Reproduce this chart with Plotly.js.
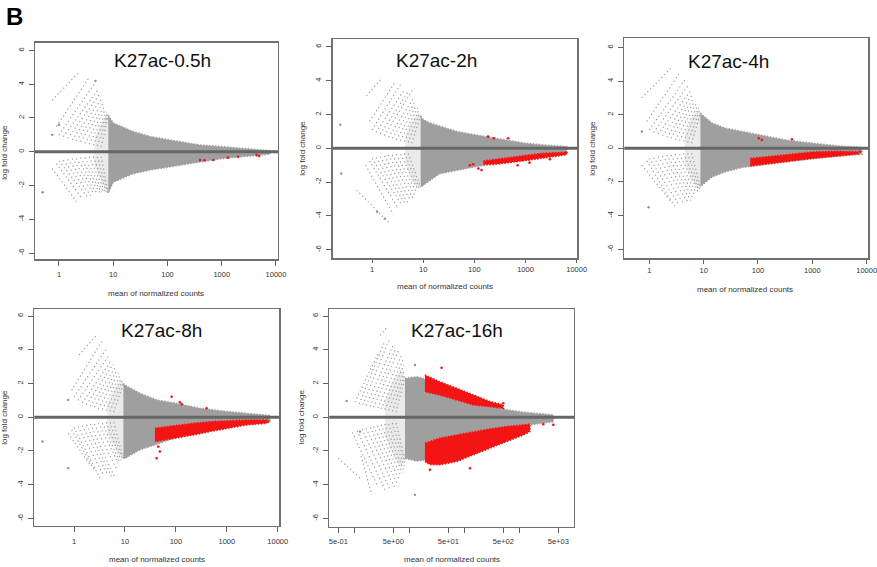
<!DOCTYPE html>
<html>
<head>
<meta charset="utf-8">
<script src="https://cdn.plot.ly/plotly-3.0.1.min.js"></script>
<style>html,body{margin:0;padding:0;background:#fff;}#chart{width:877px;height:567px;}</style>
</head>
<body>
<div id="chart"></div>
<script>
// ---------------- DATA ----------------
const panelTitles = ["K27ac-0.5h", "K27ac-2h", "K27ac-4h", "K27ac-8h", "K27ac-16h"];
const xTickVals = [1, 10, 100, 1000, 10000];
const xTickText = ["1", "10", "100", "1000", "10000"];
const xTickVals16 = [0.5, 1, 5, 10, 50, 100, 500, 1000, 5000];
const xTickText16 = ["5e-01", "", "5e+00", "", "5e+01", "", "5e+02", "", "5e+03"];
const yTickVals = [-6, -4, -2, 0, 2, 4, 6];
const yTickText = ["-6", "-4", "-2", "0", "2", "4", "6"];

// dense grey cloud envelopes (mean of normalized counts, upper / lower log fold change)
const cloudX1 = [8.1, 10, 23, 48, 108, 400, 1040, 3300, 7800];
const cloudUp1 = [2.15, 1.7, 1.2, 0.9, 0.7, 0.4, 0.3, 0.16, 0.06];
const cloudLo1 = [-2.45, -1.8, -1.3, -1.08, -0.9, -0.6, -0.4, -0.26, -0.14];
const cloudX2 = [8.9, 10, 13.5, 21, 45, 100, 270, 1000, 2200, 6300];
const cloudUp2 = [1.9, 1.7, 1.5, 1.3, 1.0, 0.8, 0.6, 0.3, 0.2, 0.1];
const cloudLo2 = [-2.3, -2.2, -1.9, -1.5, -1.3, -1.1, -0.9, -0.7, -0.5, -0.3];
const cloudX3 = [8.7, 9.3, 14.2, 25, 50.8, 100, 318, 1020, 3030, 8200];
const cloudUp3 = [2.1, 2.0, 1.5, 1.2, 1.0, 0.8, 0.5, 0.3, 0.14, 0.06];
const cloudLo3 = [-2.3, -2.2, -1.7, -1.4, -1.14, -1.0, -0.8, -0.6, -0.46, -0.34];
const cloudX4 = [9.3, 10, 19.7, 41.9, 98.9, 297, 993, 3310, 7050];
const cloudUp4 = [2.0, 1.9, 1.42, 1.03, 0.83, 0.53, 0.34, 0.18, 0.1];
const cloudLo4 = [-2.43, -2.43, -1.93, -1.6, -1.2, -0.9, -0.6, -0.4, -0.25];
const cloudX5 = [8.15, 10, 13.3, 17.6, 35, 71, 142, 286, 575, 1156, 1527, 2670, 4060];
const cloudUp5 = [2.3, 2.35, 2.4, 2.3, 1.7, 1.3, 0.95, 0.7, 0.45, 0.3, 0.27, 0.22, 0.14];
const cloudLo5 = [-2.43, -2.5, -2.6, -2.55, -2.3, -2.0, -1.7, -1.4, -1.0, -0.6, -0.45, -0.36, -0.26];

// lattice-dense part of the low-count fan
const fanX1 = [4.5, 6.0, 7.5, 8.1];  const fanUp1 = [0.8, 1.7, 2.2, 2.15]; const fanLo1 = [-0.8, -1.7, -2.3, -2.45];
const fanX2 = [4.5, 6.0, 8.0, 8.9];  const fanUp2 = [0.8, 1.6, 2.1, 1.9];  const fanLo2 = [-0.9, -1.9, -2.4, -2.3];
const fanX3 = [4.5, 6.0, 8.0, 8.7];  const fanUp3 = [0.8, 1.8, 2.3, 2.1];  const fanLo3 = [-0.9, -1.9, -2.4, -2.3];
const fanX4 = [4.5, 6.5, 8.5, 9.3];  const fanUp4 = [0.8, 1.8, 2.2, 2.0];  const fanLo4 = [-0.9, -1.9, -2.4, -2.43];
const fanX5 = [3.5, 5.0, 7.0, 8.15]; const fanUp5 = [1.0, 2.2, 2.9, 2.3];  const fanLo5 = [-1.1, -2.3, -3.0, -2.43];

// dotted low-count streaks [x0, y0, x1, y1]
const streaks1 = [
  [0.75,3.05,2.4,4.75],[0.9,1.5,3.6,4.4],[1.0,1.0,4.9,4.2],[1.2,0.9,5.3,3.7],[1.45,0.8,5.6,3.4],[1.75,0.7,6.0,3.1],[2.1,0.65,6.4,2.85],
  [2.5,0.6,6.8,2.65],[3.0,0.5,7.2,2.5],[3.6,0.45,7.5,2.35],[4.3,0.4,7.8,2.25],[5.1,0.35,8.0,2.2],[6.0,0.3,8.1,2.1],
  [0.75,-1.0,2.1,-2.95],[0.9,-0.7,2.7,-2.8],[1.0,-0.55,3.3,-2.65],[1.2,-0.5,3.9,-2.6],[1.45,-0.45,4.5,-2.5],[1.75,-0.4,5.0,-2.45],[2.1,-0.4,5.6,-2.4],
  [2.5,-0.35,6.1,-2.4],[3.0,-0.35,6.6,-2.4],[3.6,-0.3,7.1,-2.4],[4.3,-0.3,7.5,-2.4],[5.1,-0.3,7.9,-2.45],[6.0,-0.3,8.1,-2.45]];
const streaks2 = [
  [0.78,3.1,1.47,4.06],[0.9,1.6,2.8,3.9],[1.0,1.1,3.77,3.86],[1.2,0.95,4.4,3.5],[1.45,0.85,5.0,3.3],[1.75,0.75,6.2,3.47],[2.1,0.65,6.6,3.0],
  [2.5,0.6,7.0,2.75],[3.0,0.5,7.4,2.55],[3.6,0.45,7.8,2.4],[4.3,0.4,8.2,2.25],[5.1,0.35,8.6,2.1],[6.0,0.3,8.9,1.95],
  [0.5,-2.48,2.23,-4.46],[0.75,-1.0,2.6,-3.9],[0.9,-0.75,3.25,-3.56],[1.0,-0.6,3.9,-3.4],[1.2,-0.55,4.5,-3.3],[1.45,-0.5,5.1,-3.27],[1.75,-0.45,5.7,-3.1],
  [2.1,-0.4,6.3,-2.95],[2.5,-0.4,6.9,-2.8],[3.0,-0.35,7.5,-2.65],[3.6,-0.35,8.0,-2.5],[4.3,-0.3,8.5,-2.4],[5.1,-0.3,8.9,-2.3]];
const streaks3 = [
  [0.73,3.0,2.54,4.8],[0.9,1.6,3.5,4.4],[1.0,1.1,4.6,4.1],[1.2,0.95,5.1,3.7],[1.45,0.85,5.7,3.4],[1.75,0.75,6.1,3.15],[2.1,0.65,6.5,2.95],
  [2.5,0.6,6.9,2.8],[3.0,0.5,7.3,2.65],[3.6,0.45,7.7,2.5],[4.3,0.4,8.1,2.4],[5.1,0.35,8.4,2.25],[6.0,0.3,8.7,2.1],
  [0.73,-1.0,2.54,-3.2],[0.9,-0.75,3.0,-3.5],[1.0,-0.6,3.6,-3.4],[1.2,-0.55,4.3,-3.3],[1.45,-0.5,5.3,-3.26],[1.75,-0.45,5.8,-3.1],[2.1,-0.4,6.3,-2.95],
  [2.5,-0.4,6.8,-2.8],[3.0,-0.35,7.3,-2.65],[3.6,-0.35,7.8,-2.55],[4.3,-0.3,8.1,-2.5],[5.1,-0.3,8.4,-2.4],[6.0,-0.3,8.7,-2.3]];
const streaks4 = [
  [1.25,3.69,2.78,4.87],[0.9,1.6,3.5,4.5],[1.0,1.2,4.37,4.08],[1.2,1.0,4.9,3.7],[1.45,0.85,5.47,3.39],[1.75,0.75,5.9,3.15],[2.1,0.65,6.4,2.95],
  [2.5,0.6,6.9,2.75],[3.0,0.5,7.4,2.6],[3.6,0.45,7.9,2.45],[4.3,0.4,8.4,2.3],[5.1,0.35,8.9,2.15],[6.0,0.3,9.3,2.0],
  [0.77,-0.95,2.06,-2.82],[0.9,-0.75,2.6,-3.2],[1.0,-0.6,3.23,-3.61],[1.2,-0.55,3.9,-3.5],[1.45,-0.5,4.6,-3.4],[1.75,-0.45,5.4,-3.5],[2.1,-0.4,6.37,-3.61],
  [2.5,-0.4,6.9,-3.1],[3.0,-0.35,7.4,-2.72],[3.6,-0.35,7.9,-2.65],[4.3,-0.3,8.4,-2.55],[5.1,-0.3,8.9,-2.5],[6.0,-0.3,9.3,-2.43]];
const streaks5 = [
  [1.0,0.9,2.67,3.79],[2.9,4.85,3.78,5.33],[1.2,0.8,3.4,4.4],[1.4,0.75,4.2,4.6],[1.6,0.7,5.0,4.28],[1.9,0.65,5.6,4.1],[2.2,0.6,6.2,3.95],
  [2.6,0.55,7.1,3.69],[3.0,0.5,7.5,3.4],[3.5,0.45,7.8,3.1],[4.1,0.4,8.0,2.8],[4.8,0.35,8.1,2.55],[5.6,0.3,8.15,2.35],
  [0.5,-2.43,1.33,-3.7],[1.3,-2.3,2.02,-4.6],[0.9,-0.9,2.6,-4.1],[1.1,-0.8,3.52,-4.3],[1.35,-0.7,4.3,-4.25],[1.6,-0.65,5.36,-4.2],[1.9,-0.6,5.9,-3.95],
  [2.2,-0.55,6.4,-3.7],[2.6,-0.5,6.9,-3.5],[3.0,-0.45,7.3,-3.3],[3.5,-0.4,7.6,-3.1],[4.1,-0.4,7.9,-2.9],[4.8,-0.35,8.1,-2.7],[5.6,-0.35,8.15,-2.5]];

// isolated grey points
const sparseX1 = [0.5, 0.75, 1.0, 4.7];        const sparseY1 = [-2.4, 1.0, 1.6, 4.2];
const sparseX2 = [0.24, 0.25, 1.26, 1.78];     const sparseY2 = [1.39, -1.49, -3.76, -4.16];
const sparseX3 = [0.73, 0.97];                 const sparseY3 = [1.0, -3.5];
const sparseX4 = [0.24, 0.77, 0.77];           const sparseY4 = [-1.44, -3.02, 1.03];
const sparseX5 = [0.71, 1.24, 12.4, 12.4];     const sparseY5 = [0.97, -0.85, 3.1, -4.6];

// significant (red) bands
const redX2 = [150, 250, 425, 1000, 2200, 4000, 6300];
const redUp2 = [-0.75, -0.65, -0.58, -0.42, -0.3, -0.25, -0.24];
const redLo2 = [-0.95, -0.95, -0.88, -0.72, -0.58, -0.45, -0.38];
const redX3 = [72, 157, 318, 1020, 2640, 7100];
const redUp3 = [-0.6, -0.5, -0.4, -0.22, -0.18, -0.2];
const redLo3 = [-1.05, -0.92, -0.8, -0.6, -0.46, -0.34];
const redX4 = [38.8, 65.8, 98.9, 220, 467, 993, 2460, 6050];
const redUp4 = [-0.65, -0.55, -0.49, -0.36, -0.26, -0.22, -0.16, -0.16];
const redLo4 = [-1.44, -1.34, -1.24, -1.05, -0.85, -0.65, -0.45, -0.36];
const redUpX5 = [18.8, 35, 71, 142, 286, 500];
const redUpTop5 = [2.5, 2.11, 1.72, 1.32, 0.93, 0.73];
const redUpBot5 = [1.52, 1.32, 1.03, 0.73, 0.63, 0.53];
const redLoX5 = [18.8, 23, 35, 71, 142, 286, 575, 1156, 1527];
const redLoTop5 = [-1.54, -1.45, -1.24, -1.05, -0.85, -0.69, -0.55, -0.45, -0.41];
const redLoBot5 = [-2.62, -2.8, -2.82, -2.62, -2.23, -1.83, -1.44, -1.05, -0.85];

// isolated red points
const redPtX1 = [398, 480, 700, 1300, 2000, 4400, 4900];
const redPtY1 = [-0.49, -0.5, -0.49, -0.35, -0.3, -0.2, -0.25];
const redPtX2 = [82, 95, 120, 138, 186, 240, 457, 700, 1200, 3000, 6300];
const redPtY2 = [-1.0, -0.95, -1.2, -1.29, 0.69, 0.59, 0.59, -1.0, -0.85, -0.65, -0.25];
const redPtX3 = [103, 118, 423, 4650, 7600];
const redPtY3 = [0.6, 0.5, 0.54, -0.3, -0.2];
const redPtX4 = [41.9, 48.5, 45, 82.6, 120, 130, 400, 3800, 6500];
const redPtY4 = [-2.43, -2.03, -1.74, 1.22, 0.89, 0.77, 0.53, -0.22, -0.26];
const redPtX5 = [37.8, 23.2, 124, 4060, 2670, 500];
const redPtY5 = [2.94, -3.12, -3.02, -0.45, -0.41, 0.83];

// ---------------- LAYOUT GEOMETRY ----------------
const W = 877, H = 567;
const boxes = [ // left, right, top, bottom in px
  [35, 278, 42.5, 259.3], [332.7, 577.3, 39.3, 258.3], [624.3, 868.3, 38, 258.3],
  [34.3, 279.3, 309, 526], [329.3, 574, 309, 526.7]];
const xRanges = [[-0.442, 4.037], [-0.768, 4.012], [-0.46, 4.03], [-0.78, 4.03], [-0.465, 3.985]];
const yRanges = [[-6.37, 6.47], [-6.51, 6.45], [-6.54, 6.56], [-6.45, 6.42], [-6.49, 6.42]];
const titlePos = [[162, 60], [436.7, 60], [728.3, 61.5], [161.7, 330], [456.7, 330]];
const xLabPos = [[156, 293.3], [445, 286.7], [745, 289], [156.7, 559.3], [451.7, 559.3]];
const yLabPos = [[3.8, 152], [301.7, 148], [591.8, 148], [3.8, 417], [301.3, 417]];
const xStandoff = [2, 0, 0, 3, 2];
const xTickLen = [5, 3, 4, 5, 5];

const GREY = '#9f9f9f', RED = '#f51414', FONT = 'Liberation Sans, Arial, sans-serif';

const clouds = [[cloudX1, cloudUp1, cloudLo1], [cloudX2, cloudUp2, cloudLo2], [cloudX3, cloudUp3, cloudLo3], [cloudX4, cloudUp4, cloudLo4], [cloudX5, cloudUp5, cloudLo5]];
const fans = [[fanX1, fanUp1, fanLo1], [fanX2, fanUp2, fanLo2], [fanX3, fanUp3, fanLo3], [fanX4, fanUp4, fanLo4], [fanX5, fanUp5, fanLo5]];
const streaks = [streaks1, streaks2, streaks3, streaks4, streaks5];
const sparse = [[sparseX1, sparseY1], [sparseX2, sparseY2], [sparseX3, sparseY3], [sparseX4, sparseY4], [sparseX5, sparseY5]];
const reds = [[], [[redX2, redUp2, redLo2]], [[redX3, redUp3, redLo3]], [[redX4, redUp4, redLo4]], [[redUpX5, redUpTop5, redUpBot5], [redLoX5, redLoTop5, redLoBot5]]];
const redPts = [[redPtX1, redPtY1], [redPtX2, redPtY2], [redPtX3, redPtY3], [redPtX4, redPtY4], [redPtX5, redPtY5]];

function band(X, up, lo) {
  return { x: X.concat(X.slice().reverse()), y: up.concat(lo.slice().reverse()) };
}
function segs(list) {
  const x = [], y = [];
  list.forEach(s => { x.push(s[0], s[2], null); y.push(s[1], s[3], null); });
  return { x, y };
}

const traces = [];
const layout = {
  width: W, height: H, margin: { l: 0, r: 0, t: 0, b: 0, pad: 0 },
  paper_bgcolor: '#fff', plot_bgcolor: '#fff', showlegend: false,
  font: { family: FONT, color: '#222' },
  shapes: [], annotations: []
};

for (let i = 0; i < 5; i++) {
  const n = i + 1, xa = n === 1 ? 'x' : 'x' + n, ya = n === 1 ? 'y' : 'y' + n;
  const [L, R, T, B] = boxes[i];
  const is16 = i === 4;
  layout['xaxis' + (n === 1 ? '' : n)] = {
    type: 'log', range: xRanges[i], domain: [L / W, R / W], anchor: ya,
    tickmode: 'array', tickvals: is16 ? xTickVals16 : xTickVals, ticktext: is16 ? xTickText16 : xTickText,
    showline: true, linecolor: '#707070', linewidth: 1.3, mirror: true,
    ticks: 'outside', ticklen: xTickLen[i], tickwidth: 1, tickcolor: '#606060',
    tickfont: { size: 7.5, color: '#333', family: FONT }, ticklabelstandoff: xStandoff[i],
    ticklabeloverflow: 'allow',
    showgrid: false, zeroline: false, fixedrange: true
  };
  layout['yaxis' + (n === 1 ? '' : n)] = {
    range: yRanges[i], domain: [1 - B / H, 1 - T / H], anchor: xa,
    tickmode: 'array', tickvals: yTickVals, ticktext: yTickText, tickangle: -90,
    showline: true, linecolor: '#707070', linewidth: 1.3, mirror: true,
    ticks: 'outside', ticklen: 5, tickwidth: 1, tickcolor: '#606060',
    tickfont: { size: 7.5, color: '#333', family: FONT }, ticklabelstandoff: 2,
    showgrid: false, zeroline: false, fixedrange: true
  };

  // lattice-dense fan (faint)
  const f = band(fans[i][0], fans[i][1], fans[i][2]);
  traces.push({ type: 'scatter', mode: 'lines', x: f.x, y: f.y, xaxis: xa, yaxis: ya, fill: 'toself',
    fillcolor: 'rgba(160,160,160,0.22)', line: { width: 0 }, hoverinfo: 'skip' });
  // dotted streaks
  const s = segs(streaks[i]);
  traces.push({ type: 'scatter', mode: 'lines', x: s.x, y: s.y, xaxis: xa, yaxis: ya,
    line: { color: '#999999', width: 1.2, dash: '1.2px,2.8px' }, connectgaps: false, hoverinfo: 'skip' });
  // isolated points
  traces.push({ type: 'scatter', mode: 'markers', x: sparse[i][0], y: sparse[i][1], xaxis: xa, yaxis: ya,
    marker: { color: '#909090', size: 2.4 }, hoverinfo: 'skip' });
  // dense cloud
  const c = band(clouds[i][0], clouds[i][1], clouds[i][2]);
  traces.push({ type: 'scatter', mode: 'lines', x: c.x, y: c.y, xaxis: xa, yaxis: ya, fill: 'toself',
    fillcolor: GREY, line: { color: GREY, width: 1.6, dash: '1.5px,1.5px' }, hoverinfo: 'skip' });
  // red bands
  reds[i].forEach(r => {
    const b = band(r[0], r[1], r[2]);
    traces.push({ type: 'scatter', mode: 'lines', x: b.x, y: b.y, xaxis: xa, yaxis: ya, fill: 'toself',
      fillcolor: RED, line: { color: RED, width: 1.6, dash: '1.5px,1.5px' }, hoverinfo: 'skip' });
  });
  traces.push({ type: 'scatter', mode: 'markers', x: redPts[i][0], y: redPts[i][1], xaxis: xa, yaxis: ya,
    marker: { color: RED, size: 2.6 }, hoverinfo: 'skip' });

  // zero line
  layout.shapes.push({ type: 'line', xref: xa + ' domain', yref: ya, x0: 0, x1: 1, y0: 0, y1: 0,
    line: { color: '#666666', width: 3 }, layer: 'above' });

  // texts
  layout.annotations.push({ xref: 'paper', yref: 'paper', x: titlePos[i][0] / W, y: 1 - titlePos[i][1] / H,
    xanchor: 'center', yanchor: 'middle', showarrow: false, text: panelTitles[i],
    font: { size: 19, color: '#111', family: FONT } });
  layout.annotations.push({ xref: 'paper', yref: 'paper', x: xLabPos[i][0] / W, y: 1 - xLabPos[i][1] / H,
    xanchor: 'center', yanchor: 'middle', showarrow: false, text: 'mean of normalized counts',
    font: { size: 8, color: '#333', family: FONT } });
  layout.annotations.push({ xref: 'paper', yref: 'paper', x: yLabPos[i][0] / W, y: 1 - yLabPos[i][1] / H,
    xanchor: 'center', yanchor: 'middle', showarrow: false, text: 'log fold change', textangle: -90,
    font: { size: 8, color: '#333', family: FONT } });
}
layout.annotations.push({ xref: 'paper', yref: 'paper', x: 14 / W, y: 1 - 16.5 / H, xanchor: 'center', yanchor: 'middle',
  showarrow: false, text: '<b>B</b>', font: { size: 24, color: '#000', family: FONT } });

Plotly.newPlot('chart', traces, layout, { staticPlot: true, displayModeBar: false });
</script>
</body>
</html>
